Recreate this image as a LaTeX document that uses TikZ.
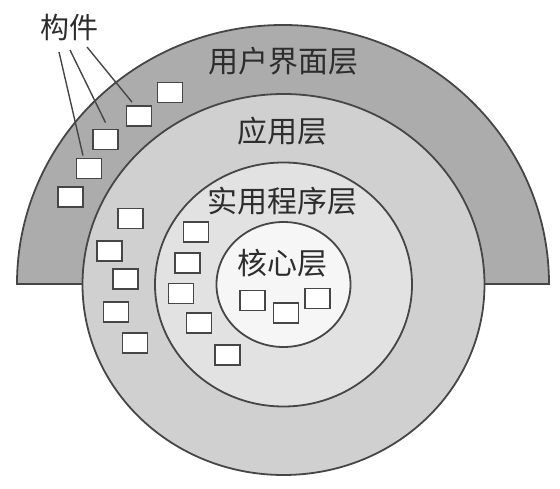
\documentclass[tikz,border=0pt]{standalone}
\usepackage{fontspec}
\newfontfamily\cjk{Noto Sans CJK SC}
\definecolor{ringOuter}{RGB}{172,172,172}
\definecolor{ringApp}{RGB}{208,208,208}
\definecolor{ringUtil}{RGB}{226,226,226}
\definecolor{ringCore}{RGB}{246,246,246}
\definecolor{edgeC}{RGB}{70,70,70}
\definecolor{textC}{RGB}{45,45,45}
\begin{document}
\begin{tikzpicture}[x=1pt,y=1pt,
  comp/.style={draw=edgeC,line width=1.8pt,fill=white,minimum width=25pt,minimum height=20pt,inner sep=0pt},
  lbl/.style={font=\cjk\fontsize{30}{30}\selectfont,text=textC,inner sep=0pt},
  ring/.style={draw=edgeC,line width=1.8pt},
  ptr/.style={draw=edgeC,line width=1.4pt}]
\useasboundingbox (0,0) rectangle (560,488);
% outer half ring (user interface layer)
\path[ring,fill=ringOuter] (17,204) arc[start angle=180,end angle=0,x radius=266pt,y radius=259pt] -- cycle;
% application layer
\path[ring,fill=ringApp] (283.5,203.5) ellipse[x radius=201pt,y radius=190.5pt];
% utility layer
\path[ring,fill=ringUtil] (283.5,203.5) ellipse[x radius=128.5pt,y radius=122pt];
% core layer
\path[ring,fill=ringCore] (283.5,203.5) ellipse[x radius=67pt,y radius=62.5pt];
% labels
\node[lbl] (ui) at (283,427) {用户界面层};
\node[lbl] (app) at (282,356.5) {应用层};
\node[lbl] (util) at (282,286.5) {实用程序层};
\node[lbl] (core) at (282,224.5) {核心层};
\node[lbl,font=\cjk\fontsize{29}{29}\selectfont] (gj) at (69,460.5) {构件};
% components in UI layer
\node[comp] (s1) at (170,395.5) {};
\node[comp] (s2) at (139,372) {};
\node[comp] (s3) at (105.5,348.5) {};
\node[comp] (s4) at (89,319.5) {};
\node[comp] (s5) at (70.5,291) {};
% components in application layer
\node[comp] (a1) at (130.5,269.5) {};
\node[comp] (a2) at (109.5,237) {};
\node[comp] (a3) at (125.5,209) {};
\node[comp] (a4) at (116,176) {};
\node[comp] (a5) at (135,145) {};
% components in utility layer
\node[comp] (u1) at (196,256) {};
\node[comp] (u2) at (187.5,225) {};
\node[comp] (u3) at (181,194.5) {};
\node[comp] (u4) at (199,165) {};
\node[comp] (u5) at (227.5,133) {};
% components in core layer
\node[comp] (c1) at (252.5,187.5) {};
\node[comp] (c2) at (286,175) {};
\node[comp] (c3) at (317.5,189.5) {};
% pointers from label
\coordinate (k1) at (59,436);
\coordinate (k2) at (70,438);
\coordinate (k3) at (87,441);
\draw[ptr] (k1) -- ([shift={(-6pt,2pt)}]s4.north);
\draw[ptr] (k2) -- ([shift={(0pt,6pt)}]s3.north);
\draw[ptr] (k3) -- ([shift={(-7pt,3pt)}]s2.north);
\end{tikzpicture}
\end{document}
